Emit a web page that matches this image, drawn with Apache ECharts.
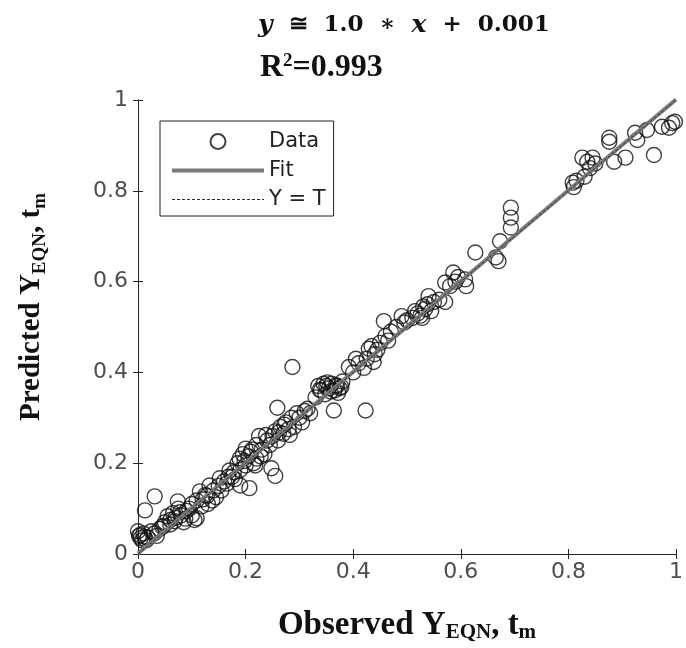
<!DOCTYPE html>
<html>
<head>
<meta charset="utf-8">
<script src="https://cdn.jsdelivr.net/npm/echarts@6/dist/echarts.min.js"></script>
<style>
  html, body { margin:0; padding:0; background:#fff; }
  #chart { width:686px; height:648px; }
</style>
</head>
<body>
<div id="chart"></div>
<script>
/* observed vs predicted */
var obsX = [
  0.000,0.002,0.005,0.008,0.010,0.012,0.015,0.013,0.031,0.025,0.030,0.040,0.045,0.050,0.055,0.060,0.060,0.065,0.070,0.074,
  0.075,0.080,0.085,0.090,0.095,0.100,0.100,0.105,0.109,0.109,0.115,0.120,0.125,0.130,0.133,0.140,0.145,0.150,0.152,0.155,
  0.160,0.165,0.170,0.175,0.180,0.185,0.189,0.190,0.190,0.195,0.200,0.200,0.205,0.207,0.210,0.215,0.220,0.220,0.225,0.230,
  0.235,0.240,0.245,0.248,0.255,0.250,0.255,0.260,0.259,0.265,0.270,0.275,0.280,0.285,0.287,0.290,0.295,0.300,0.305,0.310,
  0.315,0.320,0.330,0.335,0.340,0.345,0.350,0.355,0.360,0.365,0.364,0.370,0.375,0.380,0.392,0.400,0.405,0.410,0.420,0.423,
  0.425,0.429,0.434,0.438,0.440,0.445,0.450,0.457,0.460,0.465,0.470,0.480,0.490,0.495,0.500,0.510,0.520,0.525,0.530,0.534,
  0.540,0.545,0.550,0.560,0.571,0.571,0.580,0.586,0.590,0.595,0.608,0.610,0.627,0.665,0.670,0.673,0.693,0.693,0.693,0.808,
  0.810,0.815,0.830,0.826,0.835,0.845,0.840,0.850,0.876,0.876,0.885,0.906,0.924,0.928,0.946,0.959,0.974,0.987,0.993,0.998,
  0.004,0.018,0.035,0.048,0.068,0.078,0.088,0.118,0.128,0.138,0.168,0.178,0.198,0.212,0.218,0.228,0.238,0.262,0.272,0.282,
  0.338,0.348,0.352,0.358,0.368,0.372,0.378,0.515,0.528,0.538
];
var predY = [
  0.050,0.040,0.035,0.030,0.045,0.038,0.030,0.096,0.127,0.050,0.045,0.055,0.060,0.070,0.083,0.075,0.065,0.090,0.080,0.116,
  0.100,0.085,0.070,0.095,0.100,0.085,0.110,0.075,0.118,0.079,0.138,0.120,0.130,0.110,0.151,0.140,0.125,0.150,0.167,0.140,
  0.160,0.155,0.184,0.170,0.165,0.200,0.210,0.151,0.185,0.220,0.232,0.195,0.215,0.145,0.225,0.200,0.240,0.210,0.260,0.230,
  0.220,0.250,0.240,0.189,0.172,0.260,0.270,0.250,0.322,0.280,0.265,0.290,0.275,0.300,0.412,0.280,0.310,0.300,0.290,0.315,
  0.320,0.310,0.345,0.370,0.360,0.375,0.370,0.365,0.375,0.360,0.316,0.370,0.365,0.380,0.412,0.400,0.430,0.420,0.410,0.316,
  0.430,0.452,0.458,0.423,0.440,0.450,0.465,0.513,0.480,0.470,0.490,0.500,0.524,0.510,0.515,0.520,0.530,0.525,0.545,0.540,
  0.568,0.535,0.555,0.560,0.598,0.555,0.590,0.620,0.600,0.610,0.605,0.590,0.664,0.653,0.645,0.689,0.763,0.741,0.719,0.818,
  0.808,0.822,0.831,0.873,0.864,0.873,0.850,0.860,0.917,0.908,0.864,0.873,0.928,0.912,0.934,0.879,0.941,0.939,0.949,0.952,
  0.042,0.036,0.040,0.062,0.072,0.092,0.078,0.105,0.128,0.118,0.170,0.180,0.205,0.230,0.195,0.215,0.262,0.268,0.285,0.262,
  0.362,0.352,0.378,0.358,0.372,0.355,0.368,0.535,0.520,0.550
];
var fitX = [0, 1];
var fitY = [0.001, 1.001];
var refX = [0, 1];
var refY = [0, 1];
var tickLabels = ['0', '0.2', '0.4', '0.6', '0.8', '1'];

(function(){
  var el = document.getElementById('chart');
  var c = echarts.init(el);
  var axisCol = '#262626';
  var lblCol = '#4d4d4d';
  var serif = '"Liberation Serif", "Times New Roman", serif';
  var clear = 'rgba(0,0,0,0)';

  function pairs(xs, ys) {
    return xs.map(function(x, i){ return [x, ys[i]]; });
  }
  function fmt(v) {
    var i = Math.round(v * 5);
    return tickLabels[i] != null ? tickLabels[i] : '';
  }
  function nameRich(size, sub) {
    return {
      b: { fontFamily: serif, fontWeight: 'bold', fontSize: size, color: '#111', lineHeight: 36 },
      s: { fontFamily: serif, fontWeight: 'bold', fontSize: sub, color: '#111', lineHeight: 22, verticalAlign: 'bottom' }
    };
  }

  var boxAxis = {
    type: 'value', min: 0, max: 1, interval: 0.2,
    axisLine: { lineStyle: { color: axisCol, width: 1 } },
    axisTick: { inside: true, length: 5, lineStyle: { color: axisCol } },
    axisLabel: { show: false },
    splitLine: { show: false }
  };

  c.setOption({
    animation: false,
    backgroundColor: '#fff',
    grid: { left: 138, right: 7, top: 100, bottom: 92, containLabel: false },
    legend: {
      orient: 'vertical',
      left: 160, top: 121,
      padding: [10, 8, 6, 10],
      itemWidth: 92, itemHeight: 15, itemGap: 8,
      backgroundColor: '#fff',
      borderColor: '#222', borderWidth: 1, borderRadius: 0,
      textStyle: { fontFamily: '"DejaVu Sans", sans-serif', fontSize: 21, color: '#222' },
      data: [
        { name: 'Data' },
        { name: 'Fit', lineStyle: { width: 4 } },
        { name: 'Y = T', lineStyle: { width: 1 } }
      ]
    },
    xAxis: [
      {
        type: 'value', position: 'bottom', min: 0, max: 1, interval: 0.2,
        name: '{b|Observed Y}{s|EQN}{b|, t}{s|m}',
        nameLocation: 'middle', nameGap: 53,
        nameTextStyle: { rich: nameRich(33, 21) },
        axisLine: { lineStyle: { color: axisCol, width: 1 } },
        axisTick: { inside: true, length: 5, lineStyle: { color: axisCol } },
        axisLabel: { color: lblCol, fontFamily: '"DejaVu Sans", sans-serif', fontSize: 22, margin: 7, formatter: fmt },
        splitLine: { show: false }
      },
      echarts.util.merge({ position: 'top' }, boxAxis, true)
    ],
    yAxis: [
      {
        type: 'value', position: 'left', min: 0, max: 1, interval: 0.2,
        name: '{b|Predicted Y}{s|EQN}{b|, t}{s|m}',
        nameLocation: 'middle', nameRotate: 90, nameGap: 88,
        nameTextStyle: { rich: nameRich(29, 19), padding: [0, 0, 0, 40] },
        axisLine: { lineStyle: { color: axisCol, width: 1 } },
        axisTick: { inside: true, length: 5, lineStyle: { color: axisCol } },
        axisLabel: { color: lblCol, fontFamily: '"DejaVu Sans", sans-serif', fontSize: 22, margin: 10, formatter: fmt },
        splitLine: { show: false }
      },
      echarts.util.merge({ position: 'right' }, boxAxis, true)
    ],
    series: [
      {
        name: 'Data', type: 'scatter',
        data: pairs(obsX, predY),
        symbol: 'circle', symbolSize: 15,
        itemStyle: { color: clear, borderColor: '#111', borderWidth: 1.4 },
        z: 2
      },
      {
        name: 'Fit', type: 'line',
        data: pairs(fitX, fitY),
        symbol: 'none',
        lineStyle: { color: '#7a7a7a', width: 4 },
        itemStyle: { color: clear, borderWidth: 0 },
        z: 3
      },
      {
        name: 'Y = T', type: 'line',
        data: pairs(refX, refY),
        symbol: 'none',
        lineStyle: { color: '#333', width: 1, type: [3, 2] },
        itemStyle: { color: clear, borderWidth: 0 },
        z: 4
      }
    ],
    graphic: [
      {
        type: 'text', left: 258, top: 13,
        style: {
          text: '{i|y}  ≅  1.0  ∗  {i|x}  +  0.001',
          font: 'bold 23px "DejaVu Serif", serif',
          fill: '#111',
          rich: {
            i: { font: 'italic bold 25px "DejaVu Serif", serif', fill: '#111' }
          }
        }
      },
      {
        type: 'text', left: 260, top: 52,
        style: {
          text: 'R{p|2}=0.993',
          font: 'bold 32px ' + serif,
          fill: '#111',
          rich: {
            p: { font: 'bold 19px ' + serif, fill: '#111', lineHeight: 19, verticalAlign: 'top' }
          }
        }
      }
    ]
  });
})();
</script>
</body>
</html>
